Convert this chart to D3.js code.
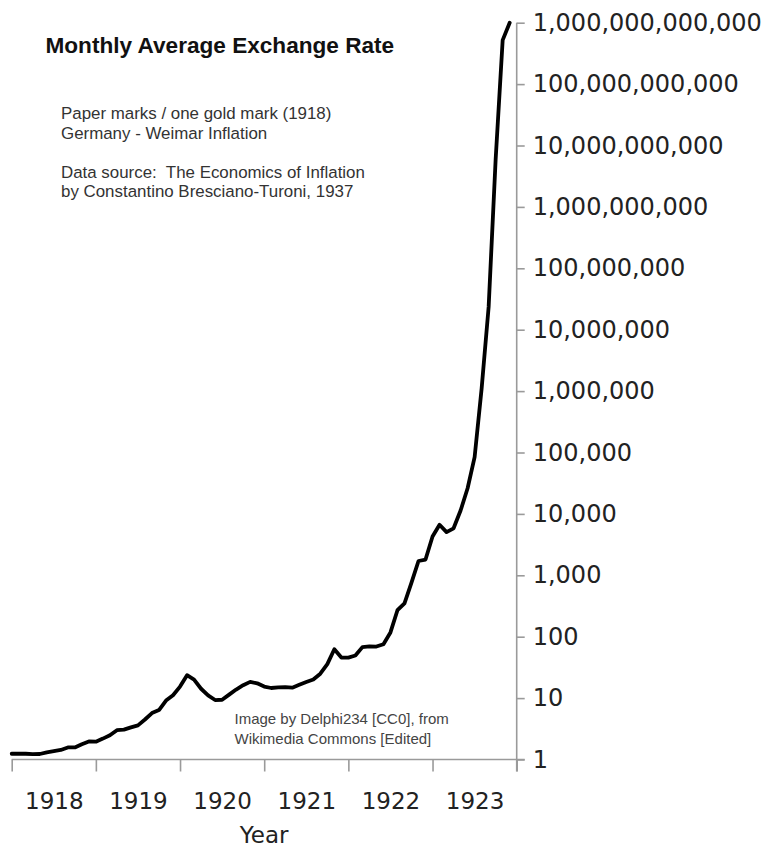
<!DOCTYPE html>
<html>
<head>
<meta charset="utf-8">
<script src="https://cdn.jsdelivr.net/npm/d3@7"></script>
<style>
	html, body { margin: 0; padding: 0; background: #fff; }
	svg { display: block; }
</style>
</head>
<body>
<div id="chart"></div>
<script>

// paper marks per one gold mark, monthly averages
const years = [1918, 1919, 1920, 1921, 1922, 1923],
	rate1918 = [1.24, 1.25, 1.24, 1.22, 1.23, 1.31, 1.37, 1.43, 1.57, 1.57, 1.77, 1.97],
	rate1919 = [1.95, 2.19, 2.48, 3.0, 3.06, 3.33, 3.6, 4.48, 5.7, 6.38, 9.12, 11.14],
	rate1920 = [15.4, 23.6, 20.0, 14.2, 11.1, 9.3, 9.4, 11.4, 13.8, 16.2, 18.4, 17.4],
	rate1921 = [15.4, 14.6, 14.9, 15.1, 14.8, 16.5, 18.3, 20.1, 25.0, 35.8, 62.6, 45.7],
	rate1922 = [45.7, 49.5, 67.7, 69.3, 69.1, 75.5, 117.4, 270, 349, 757, 1710, 1807],
	rate1923 = [4279, 6647, 5045, 5823, 11350, 26189, 84146, 1.1e6, 2.35e7, 6.0e9, 5.2e11, 1.0e12],
	rateTicks = [1, 1e1, 1e2, 1e3, 1e4, 1e5, 1e6, 1e7, 1e8, 1e9, 1e10, 1e11, 1e12];

const infoLines = [
	'Paper marks / one gold mark (1918)',
	'Germany - Weimar Inflation',
	'',
	'Data source:  The Economics of Inflation',
	'by Constantino Bresciano-Turoni, 1937'
];

const creditLines = [
	'Image by Delphi234 [CC0], from',
	'Wikimedia Commons [Edited]'
];

let W = 764,
	H = 848,
	axisColor = '#9a9a9a',
	plotLeft = 11.7,
	plotRight = 516.7,
	plotTop = 22.7,
	plotBottom = 759.5;

let rates = [].concat(rate1918, rate1919, rate1920, rate1921, rate1922, rate1923);

let svg = d3.select('#chart').append('svg')
	.attr('width', W)
	.attr('height', H);

// months since Jan 1918
let x = d3.scaleLinear()
	.domain([0, years.length * 12])
	.range([plotLeft, plotRight]);

let y = d3.scaleLog()
	.domain([1, 1e12])
	.range([plotBottom, plotTop]);

// x axis: ticks at year boundaries, labels centered in each year
let xAxis = svg.append('g')
	.attr('transform', 'translate(0,' + plotBottom + ')')
	.call(d3.axisBottom(x)
		.tickValues(d3.range(0, years.length * 12 + 1, 12))
		.tickSize(12)
		.tickSizeOuter(0)
		.tickFormat(''));

xAxis.select('.domain')
	.attr('stroke', axisColor)
	.attr('stroke-width', 1.6)
	.attr('d', 'M' + plotLeft + ',0H' + (plotRight + 8));
xAxis.selectAll('.tick line')
	.attr('stroke', axisColor)
	.attr('stroke-width', 1.6);

let xLabels = svg.append('g')
	.attr('transform', 'translate(0,' + plotBottom + ')')
	.call(d3.axisBottom(x)
		.tickValues(years.map((yr, i) => i * 12 + 6))
		.tickSize(0)
		.tickPadding(0)
		.tickFormat((d, i) => years[i]));

xLabels.select('.domain').remove();
xLabels.selectAll('.tick text')
	.attr('y', 49)
	.attr('dy', 0)
	.attr('fill', '#222')
	.style('font-family', '"DejaVu Sans", sans-serif')
	.style('font-size', '23px');

// y axis on the right, log scale
let yAxis = svg.append('g')
	.attr('transform', 'translate(' + plotRight + ',0)')
	.call(d3.axisRight(y)
		.tickValues(rateTicks)
		.tickSize(8)
		.tickPadding(8)
		.tickSizeOuter(0)
		.tickFormat(d3.format(',.0f')));

yAxis.select('.domain')
	.attr('stroke', axisColor)
	.attr('stroke-width', 1.6)
	.attr('d', 'M0,' + plotTop + 'V' + (plotBottom + 12));
yAxis.selectAll('.tick line')
	.attr('stroke', axisColor)
	.attr('stroke-width', 1.6);
yAxis.selectAll('.tick text')
	.attr('fill', '#222')
	.style('font-family', '"DejaVu Sans", sans-serif')
	.style('font-size', '24px');

svg.append('text')
	.attr('x', (plotLeft + plotRight) / 2)
	.attr('y', 843)
	.attr('text-anchor', 'middle')
	.attr('fill', '#222')
	.style('font-family', '"DejaVu Sans", sans-serif')
	.style('font-size', '23px')
	.text('Year');

let line = d3.line()
	.x((d, i) => x(i))
	.y(d => y(d));

svg.append('path')
	.datum(rates)
	.attr('d', line)
	.attr('fill', 'none')
	.attr('stroke', '#000')
	.attr('stroke-width', 3.8)
	.attr('stroke-linejoin', 'round')
	.attr('stroke-linecap', 'round');

// title and notes
svg.append('text')
	.attr('x', 45.5)
	.attr('y', 53)
	.attr('fill', '#111')
	.style('font-family', '"Liberation Sans", Arial, sans-serif')
	.style('font-weight', 'bold')
	.style('font-size', '22.6px')
	.text('Monthly Average Exchange Rate');

svg.append('g')
	.selectAll('text')
	.data(infoLines)
	.join('text')
	.attr('x', 61)
	.attr('y', (d, i) => 119 + i * 19.6)
	.attr('fill', '#333')
	.style('font-family', '"Liberation Sans", Arial, sans-serif')
	.style('font-size', '16.9px')
	.style('white-space', 'pre')
	.text(d => d);

svg.append('g')
	.selectAll('text')
	.data(creditLines)
	.join('text')
	.attr('x', 234.5)
	.attr('y', (d, i) => 724 + i * 19.5)
	.attr('fill', '#444')
	.style('font-family', '"Liberation Sans", Arial, sans-serif')
	.style('font-size', '15px')
	.text(d => d);

</script>
</body>
</html>
